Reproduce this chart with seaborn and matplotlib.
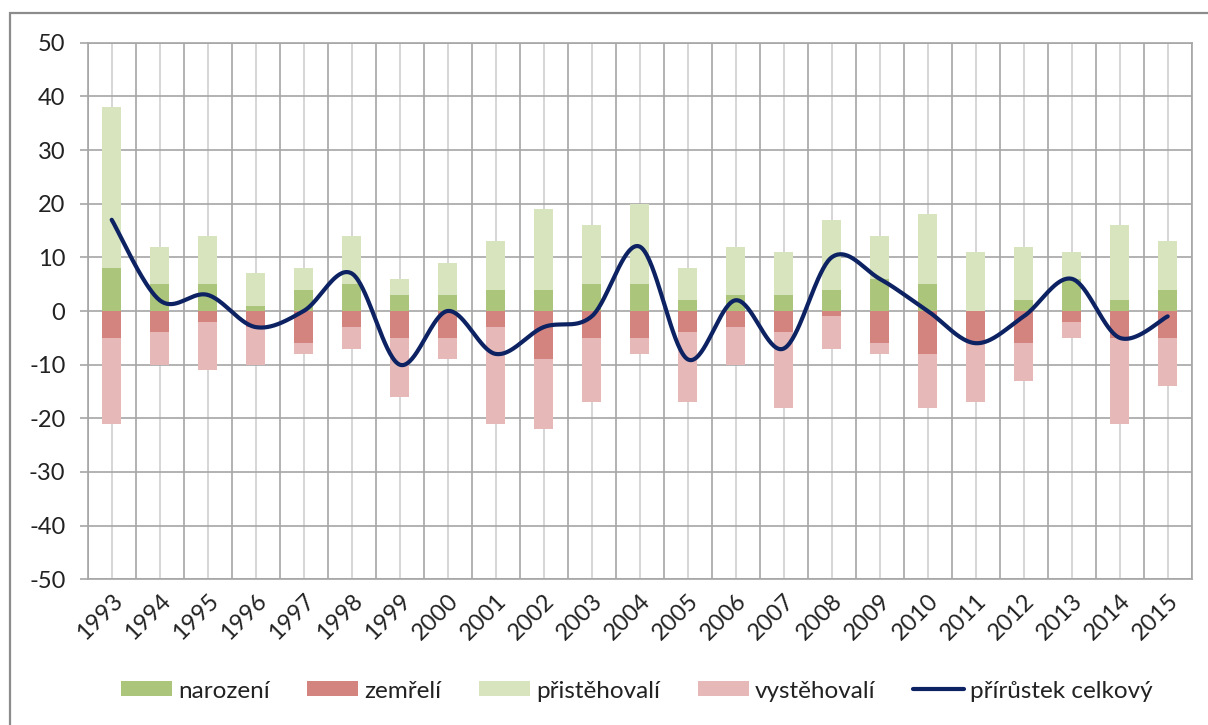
import numpy as np
import pandas as pd
import matplotlib
matplotlib.use("Agg")
import matplotlib.pyplot as plt
from matplotlib.patches import Rectangle, Patch
from matplotlib.lines import Line2D
import seaborn as sns

years = [str(y) for y in range(1993, 2016)]
narozeni     = [8, 5, 5, 1, 4, 5, 3, 3, 4, 4, 5, 5, 2, 3, 3, 4, 6, 5, 0, 2, 6, 2, 4]
zemreli      = [5, 4, 2, 3, 6, 3, 5, 5, 3, 9, 5, 5, 4, 3, 4, 1, 6, 8, 6, 6, 2, 5, 5]
pristehovali = [30, 7, 9, 6, 4, 9, 3, 6, 9, 15, 11, 15, 6, 9, 8, 13, 8, 13, 11, 10, 5, 14, 9]
vystehovali  = [16, 6, 9, 7, 2, 4, 11, 4, 18, 13, 12, 3, 13, 7, 14, 6, 2, 10, 11, 7, 3, 16, 9]
prirustek    = [17, 2, 3, -3, 0, 7, -10, 0, -8, -3, -1, 12, -9, 2, -7, 10, 6, 0, -6, -1, 6, -5, -1]

C_NAR = "#abc57b"
C_ZEM = "#d4847f"
C_PRI = "#d8e4bd"
C_VYS = "#e6b9b8"
C_LINE = "#0c2262"

sns.set_theme(style="white")
plt.rcParams["font.family"] = ["Lato", "DejaVu Sans"]
plt.rcParams["axes.unicode_minus"] = False

df = pd.DataFrame({
    "rok": years,
    "narozeni": narozeni,
    "zemreli": zemreli,
    "pristehovali": pristehovali,
    "vystehovali": vystehovali,
})
df["pos_top"] = df["narozeni"] + df["pristehovali"]
df["neg_bot"] = -(df["zemreli"] + df["vystehovali"])
df["neg_z"] = -df["zemreli"]

fig = plt.figure(figsize=(12.08, 7.25), dpi=100)
ax = fig.add_axes([87.7 / 1208, 1 - 579.3 / 725, (1191.7 - 87.7) / 1208, (579.3 - 42.7) / 725])

bw = 0.40
kw = dict(order=years, width=bw, linewidth=0, saturation=1, ax=ax, zorder=3)
sns.barplot(data=df, x="rok", y="pos_top", color=C_PRI, **kw)
sns.barplot(data=df, x="rok", y="narozeni", color=C_NAR, **kw)
sns.barplot(data=df, x="rok", y="neg_bot", color=C_VYS, **kw)
sns.barplot(data=df, x="rok", y="neg_z", color=C_ZEM, **kw)

# smoothed line (Excel-like Bezier smoothing)
x = np.arange(len(prirustek), dtype=float)
y = np.array(prirustek, dtype=float)
xs, ys = [], []
t = np.linspace(0, 1, 40)
n = len(x)
for i in range(n - 1):
    p0 = np.array([x[max(i - 1, 0)], y[max(i - 1, 0)]])
    p1 = np.array([x[i], y[i]])
    p2 = np.array([x[i + 1], y[i + 1]])
    p3 = np.array([x[min(i + 2, n - 1)], y[min(i + 2, n - 1)]])
    c1 = p1 + (p2 - p0) / 6.0
    c2 = p2 - (p3 - p1) / 6.0
    b = ((1 - t) ** 3)[:, None] * p1 + (3 * (1 - t) ** 2 * t)[:, None] * c1 \
        + (3 * (1 - t) * t ** 2)[:, None] * c2 + (t ** 3)[:, None] * p2
    xs.extend(b[:, 0]); ys.extend(b[:, 1])
sns.lineplot(x=xs, y=ys, ax=ax, color=C_LINE, linewidth=3.0, sort=False,
             estimator=None, zorder=5, solid_capstyle="round")

ax.set_xlim(-0.5, len(years) - 0.5)
ax.set_ylim(-50, 50)
ax.set_yticks(np.arange(-50, 51, 10))
ax.set_xticks(np.arange(len(years)))
ax.set_xticks(np.arange(-0.5, len(years), 1.0), minor=True)
ax.set_xticklabels(years, rotation=45, ha="right", rotation_mode="anchor")
ax.set_xlabel("")
ax.set_ylabel("")

ax.grid(False)
ax.yaxis.grid(True, color="#a6a6a6", linewidth=1.2, zorder=0)
ax.xaxis.grid(True, which="major", color="#d0d0d0", linewidth=1.2, zorder=0)
ax.xaxis.grid(True, which="minor", color="#a6a6a6", linewidth=1.2, zorder=0)
ax.set_axisbelow(True)
for s in ax.spines.values():
    s.set_color("#a6a6a6")
    s.set_linewidth(1.2)
ax.tick_params(axis="y", which="major", left=True, length=6, width=1.2, color="#a6a6a6",
               labelsize=17, pad=10, labelcolor="#222222")
ax.tick_params(axis="x", which="both", bottom=False, labelsize=17, labelcolor="#222222")
ax.tick_params(axis="x", which="major", pad=2)

handles = [
    Patch(facecolor=C_NAR, edgecolor="none", label="narození"),
    Patch(facecolor=C_ZEM, edgecolor="none", label="zemřelí"),
    Patch(facecolor=C_PRI, edgecolor="none", label="přistěhovalí"),
    Patch(facecolor=C_VYS, edgecolor="none", label="vystěhovalí"),
    Line2D([0], [0], color=C_LINE, linewidth=3.0, label="přírůstek celkový"),
]
fig.legend(handles=handles, loc="center", bbox_to_anchor=(0.527, 1 - 691 / 725), ncol=5,
           frameon=False, fontsize=17.5, handlelength=2.1, handleheight=0.58,
           handletextpad=0.25, columnspacing=1.55, labelcolor="#222222")

fig.patches.append(Rectangle((10 / 1208, -0.05), 1.2, 1.05 - 13 / 725, transform=fig.transFigure,
                             fill=False, edgecolor="#8c8c8c", linewidth=1.6, zorder=10))

fig.savefig("out.png", dpi=100, facecolor="white")
